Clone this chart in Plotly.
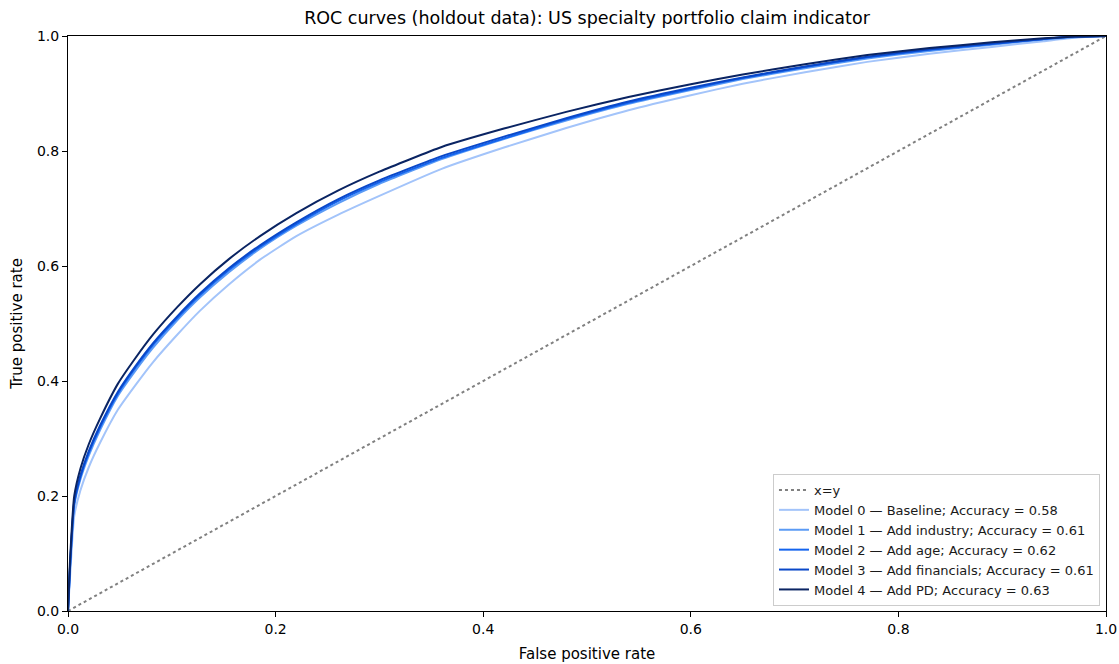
import plotly.graph_objects as go

fpr = [0, 0.002, 0.006, 0.012, 0.02, 0.031, 0.048, 0.065, 0.082, 0.105, 0.127, 0.155,
       0.185, 0.22, 0.26, 0.30, 0.36, 0.42, 0.48, 0.54, 0.60, 0.65, 0.71, 0.77, 0.83,
       0.89, 0.94, 0.97, 1.0]

tpr_m0 = [0, 0.06, 0.165, 0.210, 0.25, 0.293, 0.350, 0.393, 0.433, 0.480, 0.522, 0.568,
          0.611, 0.652, 0.689, 0.722, 0.769, 0.806, 0.840, 0.871, 0.897, 0.917, 0.937,
          0.955, 0.969, 0.981, 0.991, 0.997, 1.0]
tpr_m1 = [0, 0.075, 0.183, 0.229, 0.27, 0.315, 0.374, 0.418, 0.458, 0.505, 0.545, 0.589,
          0.630, 0.670, 0.709, 0.743, 0.786, 0.821, 0.853, 0.882, 0.906, 0.925, 0.944,
          0.961, 0.974, 0.985, 0.994, 0.998, 1.0]
tpr_m2 = [0, 0.078, 0.187, 0.233, 0.275, 0.320, 0.378, 0.423, 0.463, 0.509, 0.549, 0.593,
          0.633, 0.673, 0.713, 0.746, 0.788, 0.822, 0.855, 0.884, 0.908, 0.927, 0.946,
          0.963, 0.976, 0.986, 0.995, 0.999, 1.0]
tpr_m3 = [0, 0.08, 0.19, 0.236, 0.278, 0.323, 0.381, 0.426, 0.466, 0.512, 0.552, 0.596,
          0.636, 0.676, 0.716, 0.749, 0.791, 0.825, 0.857, 0.886, 0.910, 0.928, 0.947,
          0.964, 0.977, 0.987, 0.995, 0.999, 1.0]
tpr_m4 = [0, 0.09, 0.20, 0.248, 0.29, 0.335, 0.395, 0.440, 0.481, 0.528, 0.568, 0.612,
          0.652, 0.692, 0.731, 0.764, 0.807, 0.839, 0.868, 0.894, 0.916, 0.933, 0.951,
          0.967, 0.979, 0.989, 0.996, 0.999, 1.0]

model_names = [
    "Model 0 — Baseline; Accuracy = 0.58",
    "Model 1 — Add industry; Accuracy = 0.61",
    "Model 2 — Add age; Accuracy = 0.62",
    "Model 3 — Add financials; Accuracy = 0.61",
    "Model 4 — Add PD; Accuracy = 0.63",
]
model_tprs = [tpr_m0, tpr_m1, tpr_m2, tpr_m3, tpr_m4]
colors = ["#a3c4fa", "#5b9bf5", "#1464ee", "#0a48c8", "#0a2463"]

diag = [0, 1]
ticks = [0.0, 0.2, 0.4, 0.6, 0.8, 1.0]

fig = go.Figure()
fig.add_trace(go.Scatter(x=diag, y=diag, mode="lines", name="x=y",
                         line=dict(color="#808080", width=2, dash="dot")))
for name, tpr, c in zip(model_names, model_tprs, colors):
    fig.add_trace(go.Scatter(x=fpr, y=tpr, mode="lines", name=name,
                             line=dict(color=c, width=2, shape="spline", smoothing=0.5)))

W, H = 1119, 664
font = "DejaVu Sans"
fig.update_layout(
    width=W, height=H,
    margin=dict(l=68, r=13, t=36, b=53, autoexpand=False),
    paper_bgcolor="white", plot_bgcolor="white",
    font=dict(family=font, size=14, color="#000000"),
    title=dict(text="ROC curves (holdout data): US specialty portfolio claim indicator",
               x=0.5, xanchor="center", xref="paper",
               y=1 - 18 / H, yanchor="middle", yref="container", automargin=False,
               font=dict(family=font, size=17.5, color="#000000")),
    legend=dict(x=0.9942, y=0.0087, xanchor="right", yanchor="bottom",
                bgcolor="rgba(255,255,255,0.85)", bordercolor="#cccccc", borderwidth=1,
                font=dict(family=font, size=13, color="#1a1a1a"), itemwidth=30,
                tracegroupgap=0),
    showlegend=True,
)
axis_common = dict(range=[0, 1], tickvals=ticks, tickformat=".1f", showgrid=False,
                   zeroline=False, showline=True, linecolor="#000000", linewidth=1,
                   mirror=True, ticks="outside", ticklen=5, tickcolor="#000000",
                   automargin=False,
                   tickfont=dict(family=font, size=14, color="#000000"))
fig.update_xaxes(title=dict(text="False positive rate", standoff=12,
                            font=dict(family=font, size=15)), **axis_common)
fig.update_yaxes(title=dict(text="True positive rate", standoff=10,
                            font=dict(family=font, size=15)), **axis_common)

# remove the default 8px page margin so the figure fills the 1119x664 window exactly
fig.write_html("out.html", config={"displayModeBar": False},
               post_script="document.body.style.margin='0';document.body.style.overflow='hidden';")
